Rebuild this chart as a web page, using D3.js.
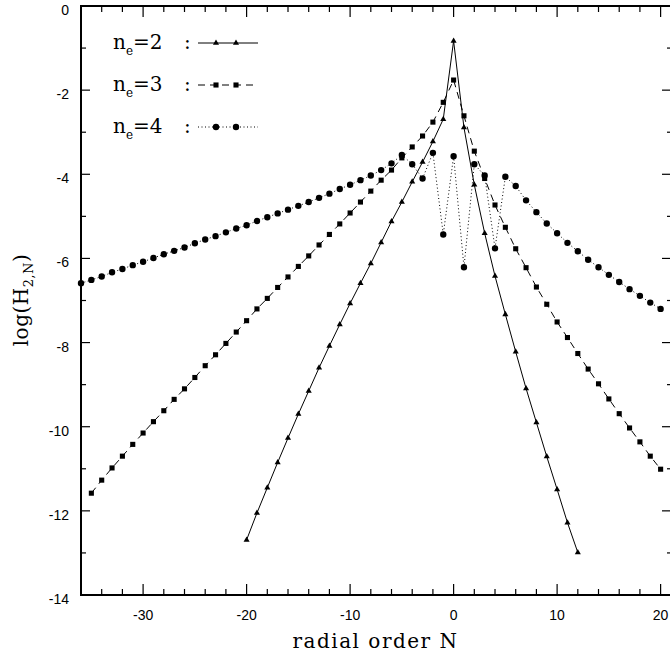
<!DOCTYPE html>
<html>
<head>
<meta charset="utf-8">
<script src="https://cdn.jsdelivr.net/npm/d3@7"></script>
<style>
  body { margin: 0; background: #fff; }
  svg { display: block; }
  .tick-label { font-family: "Liberation Sans", Arial, sans-serif; font-size: 14px; fill: #000; }
  .title { font-family: "DejaVu Serif", serif; fill: #000; }
</style>
</head>
<body>
<svg width="670" height="660"></svg>
<script>
// radial orders for each curve
const orders2 = d3.range(-20, 13);
const orders3 = d3.range(-35, 21);
const orders4 = d3.range(-36, 21);

// log(H_2,N)
const values2 = [
  -12.69, -12.05, -11.45, -10.85, -10.27, -9.70, -9.15, -8.60, -8.08, -7.57,
  -7.07, -6.59, -6.12, -5.62, -5.12, -4.66, -4.18, -3.71, -3.22, -2.69,
  -0.83,
  -2.89, -4.25, -5.40, -6.42, -7.33, -8.22, -9.09, -9.90, -10.71, -11.49, -12.28, -12.99
];
const values3 = [
  -11.58, -11.27, -10.98, -10.70, -10.42, -10.15, -9.88, -9.62, -9.35, -9.10,
  -8.83, -8.55, -8.29, -8.02, -7.75, -7.48, -7.20, -6.95, -6.69, -6.44,
  -6.19, -5.94, -5.68, -5.43, -5.18, -4.92, -4.66, -4.40, -4.14, -3.90,
  -3.61, -3.35, -3.09, -2.76, -2.29,
  -1.76,
  -2.61, -3.45, -4.10, -4.73, -5.26, -5.77, -6.22, -6.68, -7.09, -7.51,
  -7.88, -8.26, -8.63, -8.98, -9.34, -9.69, -10.03, -10.36, -10.70, -11.01
];
const values4 = [
  -6.59, -6.51, -6.43, -6.33, -6.25, -6.16, -6.08, -5.99, -5.90, -5.82,
  -5.74, -5.64, -5.55, -5.47, -5.38, -5.29, -5.21, -5.11, -5.02, -4.93,
  -4.84, -4.75, -4.66, -4.56, -4.46, -4.35, -4.25, -4.14, -4.03, -3.90,
  -3.74, -3.54, -3.76, -4.10, -3.49, -5.43,
  -3.57,
  -6.21, -3.76, -4.03, -5.76, -4.06, -4.28, -4.62, -4.90, -5.17, -5.40,
  -5.63, -5.83, -6.03, -6.21, -6.39, -6.56, -6.73, -6.89, -7.05, -7.20
];

const xTickValues = [-30, -20, -10, 0, 10, 20];
const yTickValues = [0, -2, -4, -6, -8, -10, -12, -14];
const legendLabels = ['2', '3', '4'];

const svg = d3.select('svg');
const plot = { left: 81, right: 672, top: 6, bottom: 595 };

const x = d3.scaleLinear().domain([-36, 21.1]).range([plot.left, plot.right]);
const y = d3.scaleLinear().domain([-14, 0]).range([plot.bottom, plot.top]);

const series = [
  { orders: orders2, values: values2, dash: null, symbol: d3.symbolTriangle, size: 16 },
  { orders: orders3, values: values3, dash: '7,5', symbol: d3.symbolSquare, size: 26 },
  { orders: orders4, values: values4, dash: '1,2.5', symbol: d3.symbolCircle, size: 32 }
];

// axes: ticks inward on all four sides
const minorX = d3.range(-36, 21, 2);
const minorY = d3.range(-14, 1, 1);

const axisG = svg.append('g').attr('stroke', '#000').attr('stroke-width', 1.2);

axisG.selectAll('line.bt').data(minorX).join('line').attr('class', 'bt')
  .attr('x1', d => x(d)).attr('x2', d => x(d))
  .attr('y1', plot.bottom).attr('y2', d => plot.bottom - (d % 10 === 0 ? 11 : 6));
axisG.selectAll('line.tt').data(minorX).join('line').attr('class', 'tt')
  .attr('x1', d => x(d)).attr('x2', d => x(d))
  .attr('y1', plot.top).attr('y2', d => plot.top + (d % 10 === 0 ? 11 : 6));
axisG.selectAll('line.lt').data(minorY).join('line').attr('class', 'lt')
  .attr('y1', d => y(d)).attr('y2', d => y(d))
  .attr('x1', plot.left).attr('x2', d => plot.left + (d % 2 === 0 ? 9 : 5));
axisG.selectAll('line.rt').data(minorY).join('line').attr('class', 'rt')
  .attr('y1', d => y(d)).attr('y2', d => y(d))
  .attr('x1', plot.right).attr('x2', d => plot.right - (d % 2 === 0 ? 10 : 5));

svg.append('rect')
  .attr('x', plot.left).attr('y', plot.top)
  .attr('width', plot.right - plot.left).attr('height', plot.bottom - plot.top)
  .attr('fill', 'none').attr('stroke', '#000').attr('stroke-width', 2);

svg.selectAll('text.xl').data(xTickValues).join('text')
  .attr('class', 'tick-label xl')
  .attr('x', d => x(d)).attr('y', plot.bottom + 25)
  .attr('text-anchor', 'middle')
  .text(d => d);

svg.selectAll('text.yl').data(yTickValues).join('text')
  .attr('class', 'tick-label yl')
  .attr('x', plot.left - 12).attr('y', d => y(d) + 9)
  .attr('text-anchor', 'end')
  .text(d => d);

// axis titles
svg.append('text').attr('class', 'title')
  .attr('x', (plot.left + plot.right) / 2 - 1).attr('y', 648)
  .attr('text-anchor', 'middle')
  .style('font-size', '20px').style('letter-spacing', '1.5px')
  .text('radial order N');

const yt = svg.append('text').attr('class', 'title')
  .attr('transform', 'translate(28,300) rotate(-90)')
  .attr('text-anchor', 'middle')
  .style('font-size', '20px').style('letter-spacing', '0.5px');
yt.append('tspan').text('log(H');
yt.append('tspan').attr('dy', 5).style('font-size', '13px').text('2,N');
yt.append('tspan').attr('dy', -5).text(')');

// curves
const line = d3.line().x(d => x(d[0])).y(d => y(d[1]));

series.forEach(s => {
  const pts = s.orders.map((o, i) => [o, s.values[i]]);
  svg.append('path')
    .datum(pts)
    .attr('d', line)
    .attr('fill', 'none')
    .attr('stroke', '#000')
    .attr('stroke-width', 1)
    .attr('stroke-dasharray', s.dash);
  svg.append('g').selectAll('path').data(pts).join('path')
    .attr('transform', d => `translate(${x(d[0])},${y(d[1])})`)
    .attr('d', d3.symbol().type(s.symbol).size(s.size))
    .attr('fill', '#000');
});

// legend
const legend = svg.append('g');
series.forEach((s, i) => {
  const cy = 43 + i * 42;
  const t = legend.append('text').attr('class', 'title')
    .attr('x', 113).attr('y', cy + 6)
    .style('font-size', '20px');
  t.append('tspan').text('n');
  t.append('tspan').attr('dy', 6).style('font-size', '12px').text('e');
  t.append('tspan').attr('dy', -6).text('=' + legendLabels[i]);
  legend.append('text').attr('class', 'title')
    .attr('x', 184).attr('y', cy + 6)
    .style('font-size', '20px').text(':');
  legend.append('line')
    .attr('x1', 198).attr('x2', 258).attr('y1', cy).attr('y2', cy)
    .attr('stroke', '#000').attr('stroke-width', 1)
    .attr('stroke-dasharray', s.dash);
  legend.selectAll(null).data([216, 236]).join('path')
    .attr('transform', d => `translate(${d},${cy})`)
    .attr('d', d3.symbol().type(s.symbol).size(s.size))
    .attr('fill', '#000');
});
</script>
</body>
</html>
